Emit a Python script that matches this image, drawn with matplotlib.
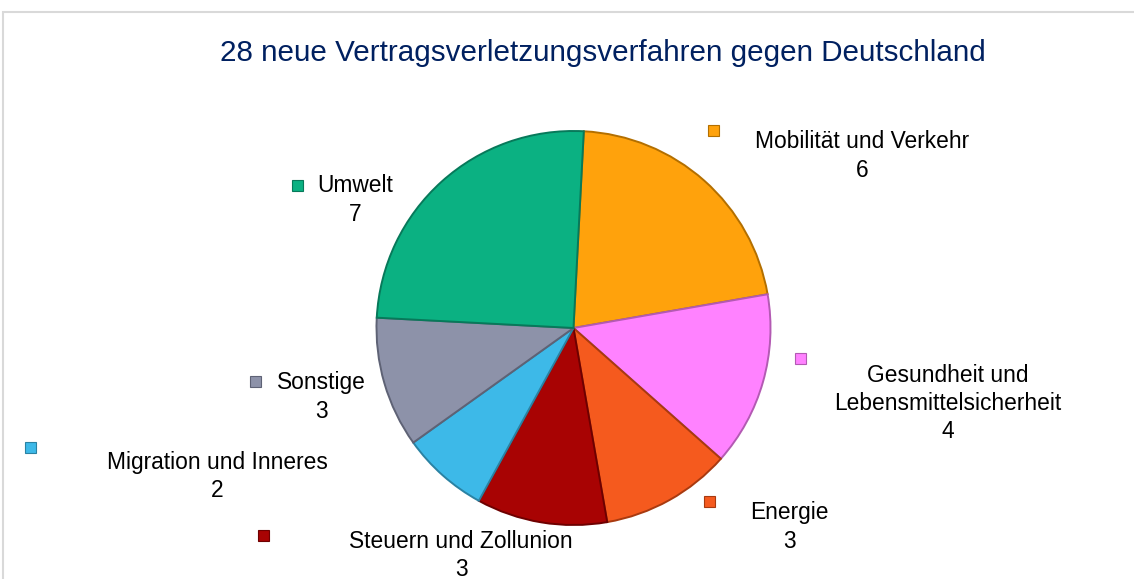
import matplotlib
matplotlib.use("Agg")
import matplotlib.pyplot as plt
from matplotlib.patches import Rectangle

categories = ["Mobilität und Verkehr", "Gesundheit und\nLebensmittelsicherheit", "Energie",
              "Steuern und Zollunion", "Migration und Inneres", "Sonstige", "Umwelt"]
values = [6, 4, 3, 3, 2, 3, 7]
colors = ["#FFA20C", "#FF82FF", "#F55A1E", "#A80303", "#3DB9E8", "#8D92A9", "#0BB182"]
edges = ["#B36F00", "#B35AB3", "#A83A10", "#6E0000", "#2A82A3", "#5E6275", "#07795A"]
title = "28 neue Vertragsverletzungsverfahren gegen Deutschland"

W, H = 1134, 579
fig = plt.figure(figsize=(W / 100, H / 100), dpi=100)
ax = fig.add_axes([0, 0, 1, 1])

def Y(y):
    return H - y

wedges, _ = ax.pie(values, colors=colors, startangle=87, counterclock=False,
                   center=(573.5, Y(328)), radius=197, frame=True,
                   wedgeprops=dict(linewidth=1.4))
for w, e in zip(wedges, edges):
    w.set_edgecolor(e)
ax.set_xlim(0, W)
ax.set_ylim(0, H)
ax.set_aspect("auto")
ax.axis("off")

# frame
ax.add_patch(Rectangle((3, -10), W + 20, Y(12) + 10, fill=False, edgecolor="#D9D9D9", lw=1.5))

ax.text(603, Y(53), title, ha="center", va="center", fontsize=21.3,
        color="#002060", family="Liberation Sans")

# label layout: (marker x, marker y, text center x, first line y)
layout = [(713, 130, 862, 142), (800, 358, 948, 375), (709, 501, 789, 513),
          (263, 535, 461, 541), (30, 447, 217, 462), (255, 381, 321, 383),
          (297, 185, 355, 186)]
lh = 28.3
for cat, v, c, e, (mx, my, tx, ty) in zip(categories, values, colors, edges, layout):
    ax.add_patch(Rectangle((mx - 5.5, Y(my) - 5.5), 11, 11, facecolor=c, edgecolor=e, lw=0.8))
    lines = cat.split("\n") + [str(v)]
    for i, ln in enumerate(lines):
        ax.text(tx, Y(ty + i * lh), ln, ha="center", va="center", fontsize=16.4,
                color="black", family="Liberation Sans")

fig.savefig("out.png", dpi=100)
